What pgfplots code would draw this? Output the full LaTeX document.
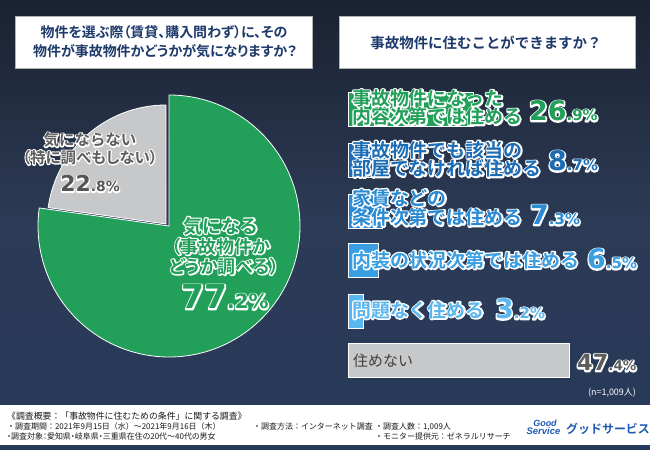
\documentclass[border=0pt]{standalone}
\usepackage{pgfplots}
\pgfplotsset{compat=1.18}
\usepackage{fontspec}
\setmainfont{Noto Sans CJK JP}[BoldFont={* Bold}]
\newfontfamily\jpb{Noto Sans CJK JP}[BoldFont={* Bold}]
\newfontfamily\jpbp{Noto Sans CJK JP}[BoldFont={* Bold},RawFeature=+palt]
\newfontfamily\numf{DejaVu Sans}
\newfontfamily\logof{Liberation Sans}
\newcommand{\fs}[1]{\fontsize{#1}{#1}\selectfont}
% white outline: stroked copy underneath, filled copy on top
\newcommand{\outl}[2]{\leavevmode\rlap{\special{pdf:literal direct 1 1 1 RG #1 w 1 j 1 J 1 Tr}#2\special{pdf:literal direct 0 Tr}}#2}
\definecolor{bgA}{HTML}{1B2231}
\definecolor{bgB}{HTML}{2C3B56}
\definecolor{bgC}{HTML}{27395A}
\definecolor{cGreen}{HTML}{22A05A}
\definecolor{cB1}{HTML}{1C6DB6}
\definecolor{cB2}{HTML}{2A8AD3}
\definecolor{cB3}{HTML}{3A9FE2}
\definecolor{cB4}{HTML}{5BB7EF}
\definecolor{cGray}{HTML}{C7C8CA}
\definecolor{navy}{HTML}{1E3A6B}
\definecolor{dgray}{HTML}{5E5E5E}
\definecolor{logoblue}{HTML}{1F5BB5}
% data
\newcommand{\pieYes}{77.2}
\newcommand{\pieNo}{22.8}
\begin{document}
\begin{tikzpicture}
\path[use as bounding box] (0,0) rectangle (650bp,450bp);
\shade[top color=bgA, bottom color=bgC, middle color=bgB] (0,0) rectangle (650bp,450bp);
% title boxes
\fill[white, draw=gray!60, line width=0.6pt] (15bp,434bp) rectangle (312bp,382bp);
\node[inner sep=0, text=navy] at (164bp,417.5bp) {\jpbp\bfseries\fs{14}物件を選ぶ際（賃貸、購入問わず）に、その};
\node[inner sep=0, text=navy] at (165bp,398.5bp) {\jpbp\bfseries\fs{14}物件が事故物件かどうかが気になりますか？};
\fill[white, draw=gray!60, line width=0.6pt] (339bp,434bp) rectangle (635bp,382bp);
\node[inner sep=0, text=navy] at (486bp,407.5bp) {\jpb\bfseries\fs{14.5}事故物件に住むことができますか？};
% pie
\begin{axis}[at={(169bp,224bp)}, anchor=center, x=1bp, y=1bp,
  xmin=-150, xmax=150, ymin=-150, ymax=150, hide axis, clip=false]
\fill[cGreen, draw=white, line width=0.8pt] (axis cs:0,0) -- (axis cs:0,131)
  arc[start angle=90, end angle={90-3.6*\pieYes}, radius=131bp] -- cycle;
\fill[cGray, draw=white, line width=0.8pt] (axis cs:-3,2) -- (axis cs:-3,121)
  arc[start angle=90, end angle={90+3.6*\pieNo}, radius=119bp] -- cycle;
\end{axis}
% pie labels
\node[inner sep=0, text=dgray] at (90bp,310bp) {\jpb\bfseries\fs{15.5}\outl{2.4}{気にならない}};
\node[inner sep=0, text=dgray] at (90bp,292.5bp) {\jpbp\bfseries\fs{15.5}\outl{2.4}{（特に調べもしない）}};
\node[inner sep=0, anchor=base, text=dgray!90!black] at (90bp,258bp) {\numf\bfseries\outl{2.4}{\fs{22}22\fs{14}.8\%}};
\node[inner sep=0, text=cGreen] at (221bp,224bp) {\jpb\bfseries\fs{19}\outl{2.6}{気になる}};
\node[inner sep=0, text=cGreen] at (221bp,203.5bp) {\jpbp\bfseries\fs{18}\outl{2.6}{（事故物件か}};
\node[inner sep=0, text=cGreen] at (224bp,183.5bp) {\jpbp\bfseries\fs{18}\outl{2.6}{どうか調べる）}};
\node[inner sep=0, anchor=base, text=cGreen] at (225bp,141bp) {\numf\bfseries\outl{3}{\fs{33}77\fs{20}.2\%}};
% bars
\begin{axis}[at={(348bp,0bp)}, anchor=south west, scale only axis,
  width=280.8bp, height=450bp, xmin=0, xmax=60, ymin=0, ymax=450,
  y dir=reverse, hide axis, clip=false, xbar, bar width=34bp, bar shift=0pt]
\addplot[fill=cGreen, draw=white, line width=0.8pt] coordinates {(26.9,109)};
\addplot[fill=cB1, draw=white, line width=0.8pt] coordinates {(8.7,160.5)};
\addplot[fill=cB2, draw=white, line width=0.8pt] coordinates {(7.3,211)};
\addplot[fill=cB3, draw=white, line width=0.8pt] coordinates {(6.5,260)};
\addplot[fill=cB4, draw=white, line width=0.8pt] coordinates {(3.2,311)};
\addplot[fill=cGray, draw=white, line width=0.8pt] coordinates {(47.4,360.5)};
\end{axis}
% bar labels
\node[inner sep=0, anchor=west, text=cGreen] at (352bp,351.5bp) {\jpb\bfseries\fs{19}\outl{3}{事故物件になった}};
\node[inner sep=0, anchor=west, text=cGreen] at (352bp,333.5bp) {\jpb\bfseries\fs{19}\outl{3}{内容次第では住める}};
\node[inner sep=0, anchor=base west, text=cGreen] at (529bp,329bp) {\numf\bfseries\outl{3}{\fs{27}26\fs{15}.9\%}};
\node[inner sep=0, anchor=west, text=cB1] at (352bp,300bp) {\jpb\bfseries\fs{19}\outl{3}{事故物件でも該当の}};
\node[inner sep=0, anchor=west, text=cB1] at (352bp,281.5bp) {\jpb\bfseries\fs{19}\outl{3}{部屋でなければ住める}};
\node[inner sep=0, anchor=base west, text=cB1] at (548bp,279bp) {\numf\bfseries\outl{3}{\fs{27}8\fs{15}.7\%}};
\node[inner sep=0, anchor=west, text=cB2] at (352bp,252bp) {\jpb\bfseries\fs{19}\outl{3}{家賃などの}};
\node[inner sep=0, anchor=west, text=cB2] at (352bp,232.5bp) {\jpb\bfseries\fs{19}\outl{3}{条件次第では住める}};
\node[inner sep=0, anchor=base west, text=cB2] at (530bp,225bp) {\numf\bfseries\outl{3}{\fs{27}7\fs{15}.3\%}};
\node[inner sep=0, anchor=west, text=cB3] at (352bp,190bp) {\jpb\bfseries\fs{19}\outl{3}{内装の状況次第では住める}};
\node[inner sep=0, anchor=base west, text=cB3] at (587bp,181bp) {\numf\bfseries\outl{3}{\fs{27}6\fs{15}.5\%}};
\node[inner sep=0, anchor=west, text=cB4] at (352bp,140bp) {\jpb\bfseries\fs{19}\outl{3}{問題なく住める}};
\node[inner sep=0, anchor=base west, text=cB4] at (495bp,131bp) {\numf\bfseries\outl{3}{\fs{27}3\fs{15}.2\%}};
\node[inner sep=0, anchor=west, text=black!75] at (353bp,89.5bp) {\jpb\fs{15}住めない};
\node[inner sep=0, anchor=base west, text=dgray] at (577bp,79bp) {\numf\bfseries\outl{3}{\fs{22.5}47\fs{13.5}.4\%}};
\node[inner sep=0, text=white] at (612bp,57bp) {\fs{9}(n=1,009人)};
% footer
\fill[white] (0,5bp) rectangle (650bp,45bp);
\node[inner sep=0, anchor=west, text=black!90] at (7bp,34bp) {\fs{8.9}《調査概要：「事故物件に住むための条件」に関する調査》};
\node[inner sep=0, anchor=west, text=black!90] at (7bp,23.5bp) {\fs{8}・調査期間：2021年9月15日（水）～2021年9月16日（木）};
\node[inner sep=0, anchor=west, text=black!90] at (253bp,23.5bp) {\fs{8}・調査方法：インターネット調査};
\node[inner sep=0, anchor=west, text=black!90] at (375bp,23.5bp) {\fs{8}・調査人数：1,009人};
\node[inner sep=0, anchor=west, text=black!90] at (7bp,14bp) {\jpbp\fs{8}・調査対象：愛知県・岐阜県・三重県在住の20代～40代の男女};
\node[inner sep=0, anchor=west, text=black!90] at (375bp,14bp) {\fs{8}・モニター提供元：ゼネラルリサーチ};
\node[inner sep=0, text=logoblue] at (545bp,26.5bp) {\logof\bfseries\itshape\fs{9}Good};
\node[inner sep=0, text=logoblue] at (543.5bp,18.5bp) {\logof\bfseries\itshape\fs{9.5}Service};
\node[inner sep=0, anchor=west, text=logoblue] at (566bp,21bp) {\jpb\bfseries\fs{12}グッドサービス};
\end{tikzpicture}
\end{document}
